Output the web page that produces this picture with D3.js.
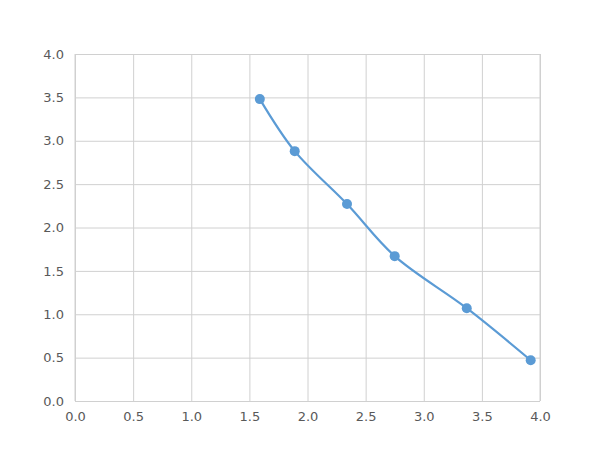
<!DOCTYPE html>
<html><head><meta charset="utf-8">
<script src="https://cdn.jsdelivr.net/npm/d3@7"></script>
<style>body{margin:0;background:#fff}svg{display:block}</style>
</head><body>
<script>
const xValues = [1.59, 1.89, 2.34, 2.75, 3.37, 3.92];
const yValues = [3.48, 2.88, 2.27, 1.67, 1.07, 0.47];
const xTicks = [0, 0.5, 1, 1.5, 2, 2.5, 3, 3.5, 4];
const yTicks = [0, 0.5, 1, 1.5, 2, 2.5, 3, 3.5, 4];

const W = 600, H = 450;
const m = {left: 75, right: 60, top: 54, bottom: 49};
const svg = d3.select("body").append("svg").attr("width", W).attr("height", H);
const x = d3.scaleLinear().domain([0, 4]).range([m.left, W - m.right]);
const y = d3.scaleLinear().domain([0, 4]).range([H - m.bottom, m.top]);
const grid = "#d0d0d0";
const font = "DejaVu Sans, sans-serif";

const xAxis = svg.append("g").attr("transform", `translate(0,${H - m.bottom})`)
  .call(d3.axisBottom(x).tickValues(xTicks).tickFormat(d3.format(".1f")).tickSize(-(H - m.bottom - m.top)).tickPadding(11));
const yAxis = svg.append("g").attr("transform", `translate(${m.left},0)`)
  .call(d3.axisLeft(y).tickValues(yTicks).tickFormat(d3.format(".1f")).tickSize(-(W - m.left - m.right)).tickPadding(11));
[xAxis, yAxis].forEach(a => {
  a.select(".domain").remove();
  a.selectAll("line").attr("stroke", grid).attr("stroke-width", 1);
  a.selectAll("text").attr("fill", "#595959").style("font-family", font).style("font-size", "13px");
});
// border lines
svg.append("line").attr("x1", x(0)).attr("x2", x(0)).attr("y1", y(0)).attr("y2", y(4)).attr("stroke", grid);
svg.append("line").attr("x1", x(4)).attr("x2", x(4)).attr("y1", y(0)).attr("y2", y(4)).attr("stroke", grid);

const pts = xValues.map((v, i) => [v, yValues[i]]);
const color = "#5b9bd5";
svg.append("path").datum(pts)
  .attr("d", d3.line().x(d => x(d[0])).y(d => y(d[1])).curve(d3.curveCatmullRom.alpha(0.5)))
  .attr("fill", "none").attr("stroke", color).attr("stroke-width", 2.2);
svg.selectAll("circle.pt").data(pts).enter().append("circle")
  .attr("cx", d => x(d[0])).attr("cy", d => y(d[1])).attr("r", 5).attr("fill", color);
</script>
</body></html>
